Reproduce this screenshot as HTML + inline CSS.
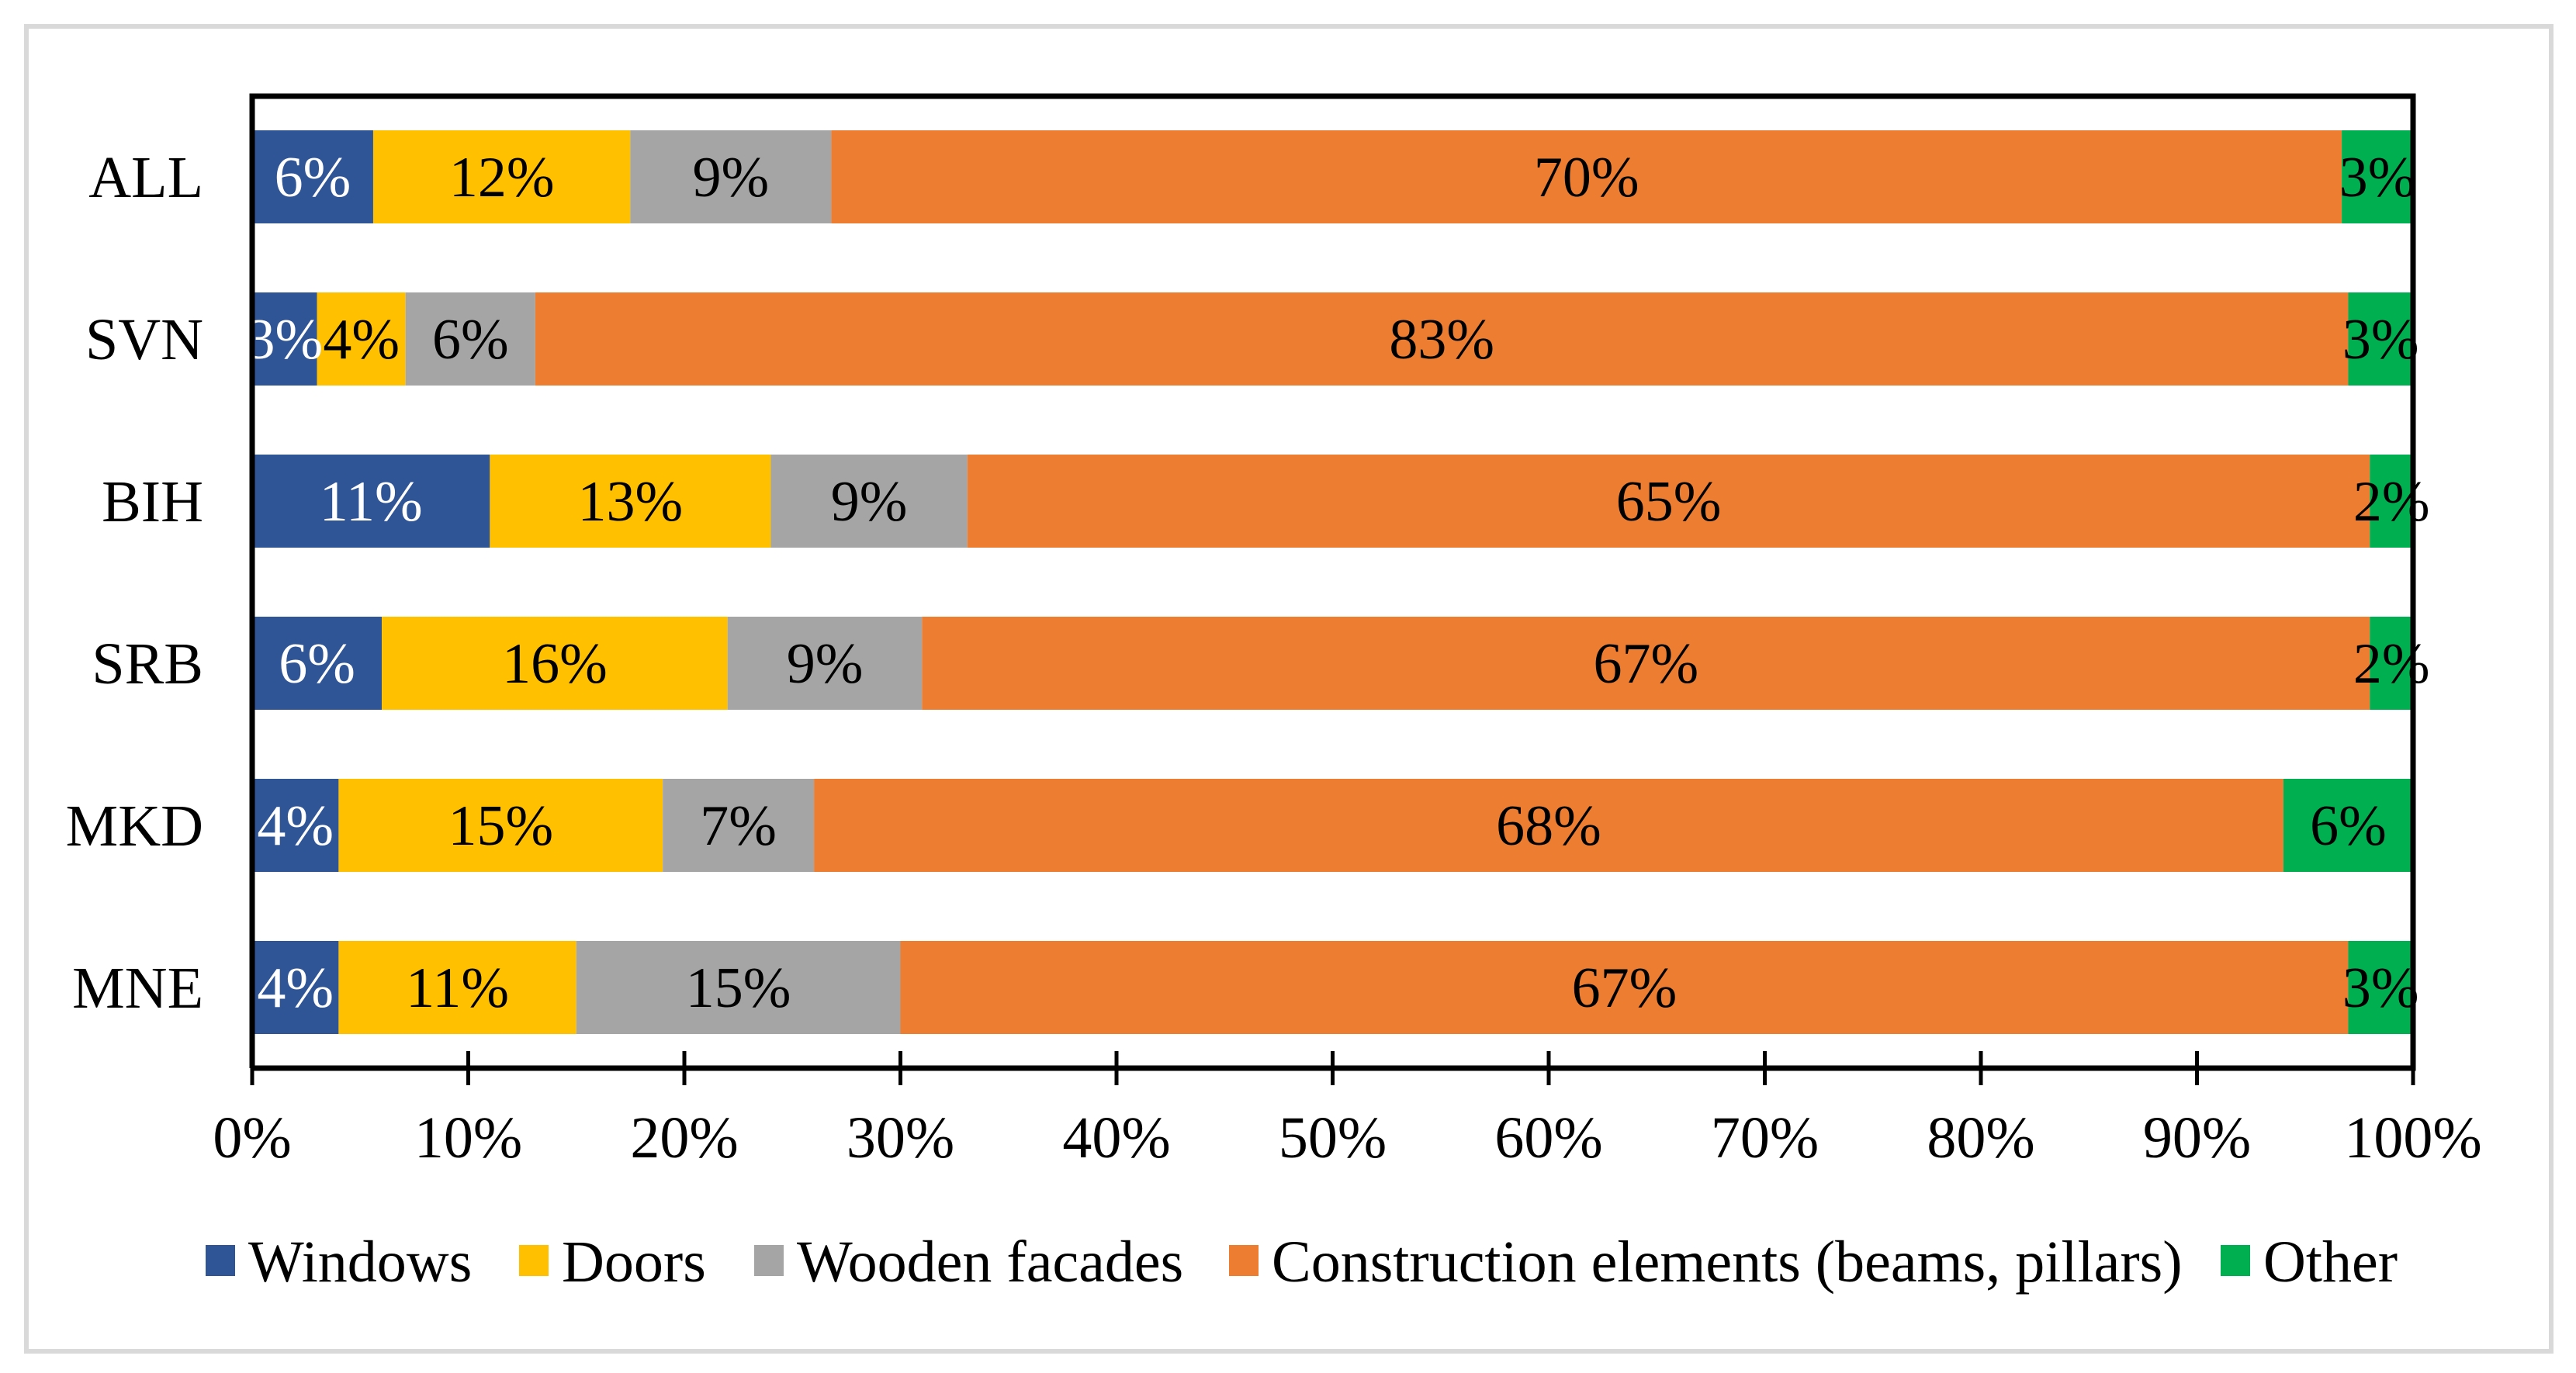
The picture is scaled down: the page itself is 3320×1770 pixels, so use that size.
<!DOCTYPE html>
<html><head><meta charset="utf-8"><style>
html,body{margin:0;padding:0;background:#fff;}
svg{display:block;font-family:"Liberation Serif",serif;}
</style></head><body>
<svg id="chart" width="3320" height="1770" viewBox="0 0 3320 1770">
<rect x="34" y="34" width="3254" height="1708" fill="#fff" stroke="#d9d9d9" stroke-width="6"/>
<g id="plot"></g>
<g id="legend"></g>
</svg>
<script>
const categories = ["ALL","SVN","BIH","SRB","MKD","MNE"];
const seriesNames = ["Windows","Doors","Wooden facades","Construction elements (beams, pillars)","Other"];
const windowsVals = [5.6,3.0,11.0,6.0,4.0,4.0];
const doorsVals = [11.9,4.1,13.0,16.0,15.0,11.0];
const facadesVals = [9.3,6.0,9.1,9.0,7.0,15.0];
const constructionVals = [69.9,83.9,64.9,67.0,68.0,67.0];
const otherVals = [3.3,3.0,2.0,2.0,6.0,3.0];
const windowsLabels = ["6%","3%","11%","6%","4%","4%"];
const doorsLabels = ["12%","4%","13%","16%","15%","11%"];
const facadesLabels = ["9%","6%","9%","9%","7%","15%"];
const constructionLabels = ["70%","83%","65%","67%","68%","67%"];
const otherLabels = ["3%","3%","2%","2%","6%","3%"];
const xTicks = [0,10,20,30,40,50,60,70,80,90,100];
const xTickLabels = ["0%","10%","20%","30%","40%","50%","60%","70%","80%","90%","100%"];

const NS="http://www.w3.org/2000/svg";
const colors=["#2f5597","#ffc000","#a5a5a5","#ed7d31","#00b050"];
const labelColors=["#fff","#000","#000","#000","#000"];
const series=[windowsVals,doorsVals,facadesVals,constructionVals,otherVals];
const labels=[windowsLabels,doorsLabels,facadesLabels,constructionLabels,otherLabels];
const X0=325,X1=3110,YTOP=124,AXY=1377,BAR0=168,PITCH=209,BH=120;
function xs(v){return X0+(X1-X0)*v/100;}
function yc(i){return BAR0+i*PITCH;}
function mk(tag,attrs,parent){const e=document.createElementNS(NS,tag);for(const k in attrs)e.setAttribute(k,attrs[k]);parent.appendChild(e);return e;}
const plot=document.getElementById('plot');
categories.forEach((c,i)=>{
  let acc=0;
  series.forEach((s,j)=>{
    const v=s[i];
    const r=mk('rect',{x:xs(acc),y:yc(i),width:xs(acc+v)-xs(acc),height:BH,fill:colors[j]},plot);
    
    
    acc+=v;
  });
  acc=0;
  series.forEach((s,j)=>{
    const v=s[i];
    const t=mk('text',{x:(xs(acc)+xs(acc+v))/2,y:yc(i)+BH/2+25,'text-anchor':'middle','font-size':74,fill:labelColors[j]},plot);
    t.textContent=labels[j][i];
    
    
    acc+=v;
  });
  const cl=mk('text',{x:262,y:yc(i)+BH/2+26,'text-anchor':'end','font-size':76,fill:'#000'},plot);
  cl.textContent=c;
  
  
});
// frame lines
const ax=mk('path',{d:`M${X0} ${AXY} V${YTOP} H${X1} V${AXY} H${X0}`,fill:'none',stroke:'#000','stroke-width':7},plot);


xTicks.forEach((v,k)=>{
  const tk=mk('line',{x1:xs(v),x2:xs(v),y1:1355,y2:1399,stroke:'#000','stroke-width':5},plot);
  
  
  const tl=mk('text',{x:xs(v),y:1492,'text-anchor':'middle','font-size':76,fill:'#000'},plot);
  tl.textContent=xTickLabels[k];
  
  
});
const legend=document.getElementById('legend');
const sqX=[265,669,972,1584,2862];
seriesNames.forEach((n,j)=>{
  const g=mk('g',{},legend);
  
  
  mk('rect',{x:sqX[j],y:1605,width:38,height:40,fill:colors[j]},g);
  const t=mk('text',{x:sqX[j]+55,y:1652,'font-size':76,fill:'#000'},g);
  t.textContent=n;
});
</script>
</body></html>
